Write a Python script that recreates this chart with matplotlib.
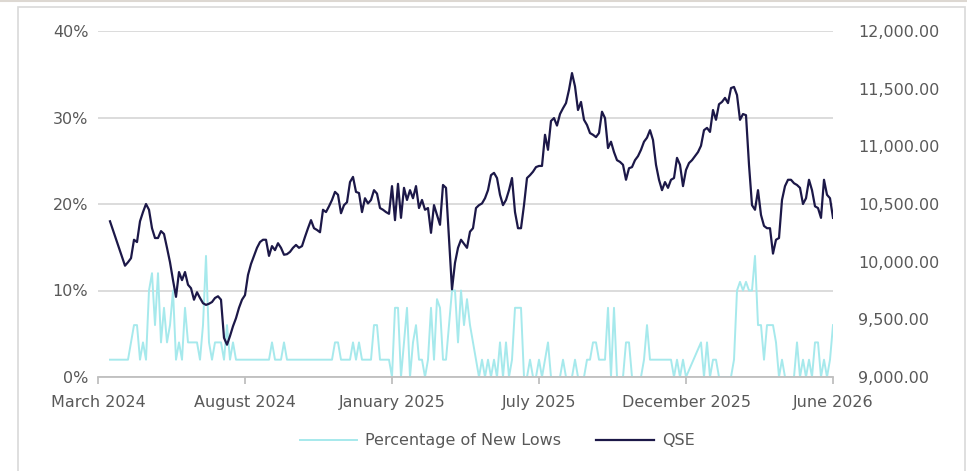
import numpy as np
import matplotlib
matplotlib.use("Agg")
import matplotlib.pyplot as plt
from matplotlib.ticker import FuncFormatter, MultipleLocator
from matplotlib.patches import Rectangle
from matplotlib.lines import Line2D

nan = np.nan

# category labels shown on the x axis (evenly spaced, Excel style)
tick_labels = ["March 2024", "August 2024", "January 2025",
               "July 2025", "December 2025", "June 2026"]

# QSE index level (nan = no value, line is joined across)
qse = [
    10350, nan, nan, nan, nan, 9965, 9995, 10030, 10190, 10170,
    10350, 10430, 10500, 10450, 10290, 10205, 10205, 10265, 10240, 10120,
    9995, 9840, 9695, 9910, 9840, 9910, 9800, 9770, 9670, 9735,
    9685, 9640, 9625, 9635, 9650, 9685, 9700, 9670, 9340, 9280,
    9355, 9440, 9510, 9600, 9670, 9710, 9885, 9980, 10050, 10120,
    10170, 10190, 10190, 10050, 10135, 10100, 10160, 10120, 10060, 10065,
    10085, 10120, 10145, 10120, 10135, 10215, 10290, 10360, 10290, 10275,
    10255, 10450, 10430, 10480, 10535, 10605, 10580, 10420, 10490, 10515,
    10690, 10735, 10605, 10595, 10430, 10550, 10505, 10535, 10620, 10590,
    10465, 10450, 10430, 10415, 10655, 10360, 10675, 10380, 10640, 10535,
    10620, 10550, 10655, 10465, 10535, 10450, 10465, 10250, 10490, 10405,
    10320, 10665, 10640, nan, 9760, 9990, 10120, 10190, 10155, 10120,
    10260, 10290, 10465, 10490, 10505, 10550, 10620, 10750, 10770, 10725,
    10580, 10490, 10535, 10620, 10725, 10430, 10290, 10290, 10490, 10725,
    10750, 10780, 10820, 10830, 10830, 11100, 10970, 11220, 11245, 11180,
    11280, 11330, 11375, 11490, 11635, 11520, 11315, 11385, 11230, 11185,
    11115, 11100, 11080, 11115, 11300, 11245, 10985, 11040, 10950, 10880,
    10865, 10840, 10710, 10810, 10820, 10880, 10915, 10970, 11040, 11075,
    11140, 11055, 10840, 10710, 10620, 10690, 10640, 10710, 10725, 10900,
    10840, 10655, 10795, 10855, 10880, 10915, 10950, 11005, 11140, 11160,
    11125, 11315, 11230, 11365, 11385, 11420, 11375, 11505, 11515, 11445,
    11230, 11280, 11270, 10840, 10490, 10450, 10620, 10405, 10310, 10290,
    10290, 10070, 10190, 10205, 10535, 10655, 10710, 10710, 10680, 10665,
    10640, 10500, 10550, 10710, 10620, 10480, 10465, 10380, 10710, 10580,
    10550, 10380,
]

# percentage of stocks at new lows (%)
new_lows = [
    2, 2, 2, 2, 2, 2, 2, 4, 6, 6,
    2, 4, 2, 10, 12, 6, 12, 4, 8, 4,
    6, 10, 2, 4, 2, 8, 4, 4, 4, 4,
    2, 6, 14, 4, 2, 4, 4, 4, 2, 6,
    2, 4, 2, 2, 2, 2, 2, 2, 2, 2,
    2, 2, 2, 2, 4, 2, 2, 2, 4, 2,
    2, 2, 2, 2, 2, 2, 2, 2, 2, 2,
    2, 2, 2, 2, 2, 4, 4, 2, 2, 2,
    2, 4, 2, 4, 2, 2, 2, 2, 6, 6,
    2, 2, 2, 2, 0, 8, 8, 0, 4, 8,
    0, 4, 6, 2, 2, 0, 2, 8, 2, 9,
    8, 2, 2, nan, 10, 10, 4, 10, 6, 9,
    6, 4, 2, 0, 2, 0, 2, 0, 2, 0,
    4, 0, 4, 0, 2, 8, 8, 8, 0, 0,
    2, 0, 0, 2, 0, 2, 4, 0, 0, 0,
    0, 2, 0, 0, 0, 2, 0, 0, 0, 2,
    2, 4, 4, 2, 2, 2, 8, 0, 8, 0,
    0, 0, 4, 4, 0, 0, 0, 0, 2, 6,
    2, 2, 2, 2, 2, 2, 2, 2, 0, 2,
    0, 2, 0, nan, nan, nan, nan, 4, 0, 4,
    0, 2, 2, 0, 0, 0, 0, 0, 2, 10,
    11, 10, 11, 10, 10, 14, 6, 6, 2, 6,
    6, 6, 4, 0, 2, 0, 0, 0, 0, 4,
    0, 2, 0, 2, 0, 4, 4, 0, 2, 0,
    2, 6,
]

assert len(qse) == len(new_lows)

qse = np.array(qse, dtype=float)
new_lows = np.array(new_lows, dtype=float)
idx = np.arange(len(qse))

navy = "#1c1848"
cyan = "#a6e9ec"
grid_gray = "#d9d9d9"
text_gray = "#595959"

plt.rcParams["font.family"] = ["DejaVu Sans"]

fig = plt.figure(figsize=(9.67, 4.71), dpi=100)
ax = fig.add_axes([98 / 967, 1 - 377 / 471, (833 - 98) / 967, (377 - 31) / 471])
ax2 = ax.twinx()

# chart frame
fig.patches.append(Rectangle((18 / 967, -0.05), (965 - 18) / 967, 1.05 - 7 / 471,
                             transform=fig.transFigure, fill=False,
                             edgecolor="#d9d9d9", lw=1.2))
fig.add_artist(Line2D([0, 1], [1 - 0.8 / 471] * 2, transform=fig.transFigure,
                      color="#ddd8d2", lw=1.5))

m = ~np.isnan(new_lows)
ax.plot(idx[m], new_lows[m], color=cyan, lw=1.4, label="Percentage of New Lows")
m2 = ~np.isnan(qse)
ax2.plot(idx[m2], qse[m2], color=navy, lw=1.6, label="QSE")

n = len(qse)
x_left = -4
x_right = n - 1
ax.set_xlim(x_left, x_right)
ax.set_ylim(0, 40)
ax2.set_ylim(9000, 12000)

ax.set_xticks(np.linspace(x_left, x_right, len(tick_labels)))
ax.set_xticklabels(tick_labels)
ax.yaxis.set_major_locator(MultipleLocator(10))
ax.yaxis.set_major_formatter(FuncFormatter(lambda v, p: f"{v:.0f}%"))
ax2.yaxis.set_major_locator(MultipleLocator(500))
ax2.yaxis.set_major_formatter(FuncFormatter(lambda v, p: f"{v:,.2f}"))

ax.grid(axis="y", color=grid_gray, lw=1.3)
ax.set_axisbelow(True)

for a in (ax, ax2):
    for s in ("top", "right", "left", "bottom"):
        a.spines[s].set_visible(False)
ax.spines["bottom"].set_visible(True)
ax.spines["bottom"].set_color("#bfbfbf")
ax.spines["bottom"].set_linewidth(1.3)

ax.tick_params(axis="x", colors="#bfbfbf", length=5, width=1.3, pad=8,
               labelcolor=text_gray, labelsize=11.5)
ax.tick_params(axis="y", length=0, pad=7, labelcolor=text_gray, labelsize=11.5)
ax2.tick_params(axis="y", length=0, pad=18, labelcolor=text_gray, labelsize=11.5)

h1, l1 = ax.get_legend_handles_labels()
h2, l2 = ax2.get_legend_handles_labels()
fig.legend(h1 + h2, l1 + l2, loc="center", bbox_to_anchor=(0.514, 0.064),
           ncol=2, frameon=False, fontsize=11.5, labelcolor=text_gray,
           handlelength=3.6, columnspacing=2.2, handletextpad=0.5)

fig.savefig("out.png", dpi=100)
